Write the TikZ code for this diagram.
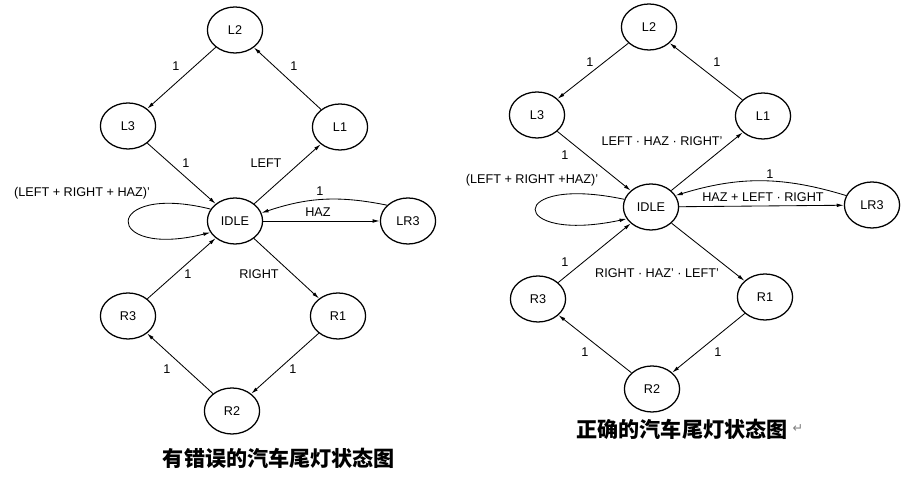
\documentclass[tikz,border=0pt]{standalone}
\usepackage{fontspec}
\setmainfont{Liberation Sans}
\newfontfamily\cjk{Noto Sans CJK SC}
\newfontfamily\symfont{DejaVu Sans}
\usetikzlibrary{arrows.meta, shapes.geometric}

\begin{document}
\begin{tikzpicture}[
    x=0.025cm, y=0.025cm,
    every node/.style={font=\fontsize{9}{10}\selectfont},
]

\tikzset{
  state/.style={draw, ellipse, line width=0.9pt, minimum width=1.38cm,
                minimum height=1.15cm, inner sep=0pt},
  tr/.style={-{Latex[length=5pt, width=2.6pt]}, line width=0.6pt},
  cond/.style={inner sep=1pt},
  caption/.style={font=\cjk\bfseries\fontsize{15}{17}\selectfont},
}

\useasboundingbox (0,0) rectangle (901,477);

% ---------------------------------------------------------------- states, wrong diagram
\foreach \n/\x/\y in {L2/235/447, L3/128/351, L1/340/350, IDLE/235/256,
                      LR3/408/256, R3/128/161, R1/338/161, R2/232/66} {
    \node[state] (\n a) at (\x, \y) {\n};
}

% ---------------------------------------------------------------- states, correct diagram
\foreach \n/\x/\y in {L2/649/450, L3/537/362, L1/763/361, IDLE/651/270,
                      LR3/872/272, R3/538/178, R1/765/180, R2/652/88} {
    \node[state] (\n b) at (\x, \y) {\n};
}

% ---------------------------------------------------------------- transitions
\foreach \b in {a, b} {
    \draw[tr] (L2\b) -- (L3\b);
    \draw[tr] (L3\b) -- (IDLE\b);
    \draw[tr] (IDLE\b) -- (L1\b);
    \draw[tr] (L1\b) -- (L2\b);
    \draw[tr] (IDLE\b) -- (R1\b);
    \draw[tr] (R1\b) -- (R2\b);
    \draw[tr] (R2\b) -- (R3\b);
    \draw[tr] (R3\b) -- (IDLE\b);
    \draw[tr] (IDLE\b) -- (LR3\b);
}
\draw[tr] (LR3a.143) to[bend right=15] (IDLEa.17);
\draw[tr] (LR3b.160) to[bend right=17] (IDLEb.25);
\draw[tr] (IDLEa.154) to[out=166, in=194, distance=2.8cm] (IDLEa.205);
\draw[tr] (IDLEb.164) to[out=168, in=192, distance=3.05cm] (IDLEb.206);

% ---------------------------------------------------------------- labels, wrong diagram
\node[cond] (c1a) at (176, 411) {1};
\node[cond] (c2a) at (294, 411) {1};
\node[cond] (c3a) at (186, 314) {1};
\node[cond] (lefta) at (266, 314) {LEFT};
\node[cond] (nonea) at (82, 284) {(LEFT + RIGHT + HAZ)'};
\node[cond] (c4a) at (320, 286) {1};
\node[cond] (haza) at (318, 265) {HAZ};
\node[cond] (c5a) at (188, 203) {1};
\node[cond] (righta) at (259, 203) {RIGHT};
\node[cond] (c6a) at (167, 108) {1};
\node[cond] (c7a) at (293, 108) {1};

% ---------------------------------------------------------------- labels, correct diagram
\node[cond] (c1b) at (590, 415) {1};
\node[cond] (c2b) at (717, 415) {1};
\node[cond] (c3b) at (565, 322) {1};
\node[cond] (leftb) at (662, 336) {LEFT · HAZ · RIGHT'};
\node[cond] (noneb) at (532, 297) {(LEFT + RIGHT +HAZ)'};
\node[cond] (c4b) at (770, 303) {1};
\node[cond] (hazb) at (763, 280) {HAZ + LEFT · RIGHT};
\node[cond] (c5b) at (565, 215) {1};
\node[cond] (rightb) at (657, 204) {RIGHT · HAZ' · LEFT'};
\node[cond] (c6b) at (585, 125) {1};
\node[cond] (c7b) at (718, 125) {1};

% ---------------------------------------------------------------- captions
\node[caption] (capa) at (279, 19) {有错误的汽车尾灯状态图};
\node[caption] (capb) at (682, 48) {正确的汽车尾灯状态图};
\node[font=\symfont\fontsize{9}{10}\selectfont, text=gray, anchor=west,
      inner sep=0pt] (retb) at (capb.east) {↵};

\end{tikzpicture}
\end{document}
